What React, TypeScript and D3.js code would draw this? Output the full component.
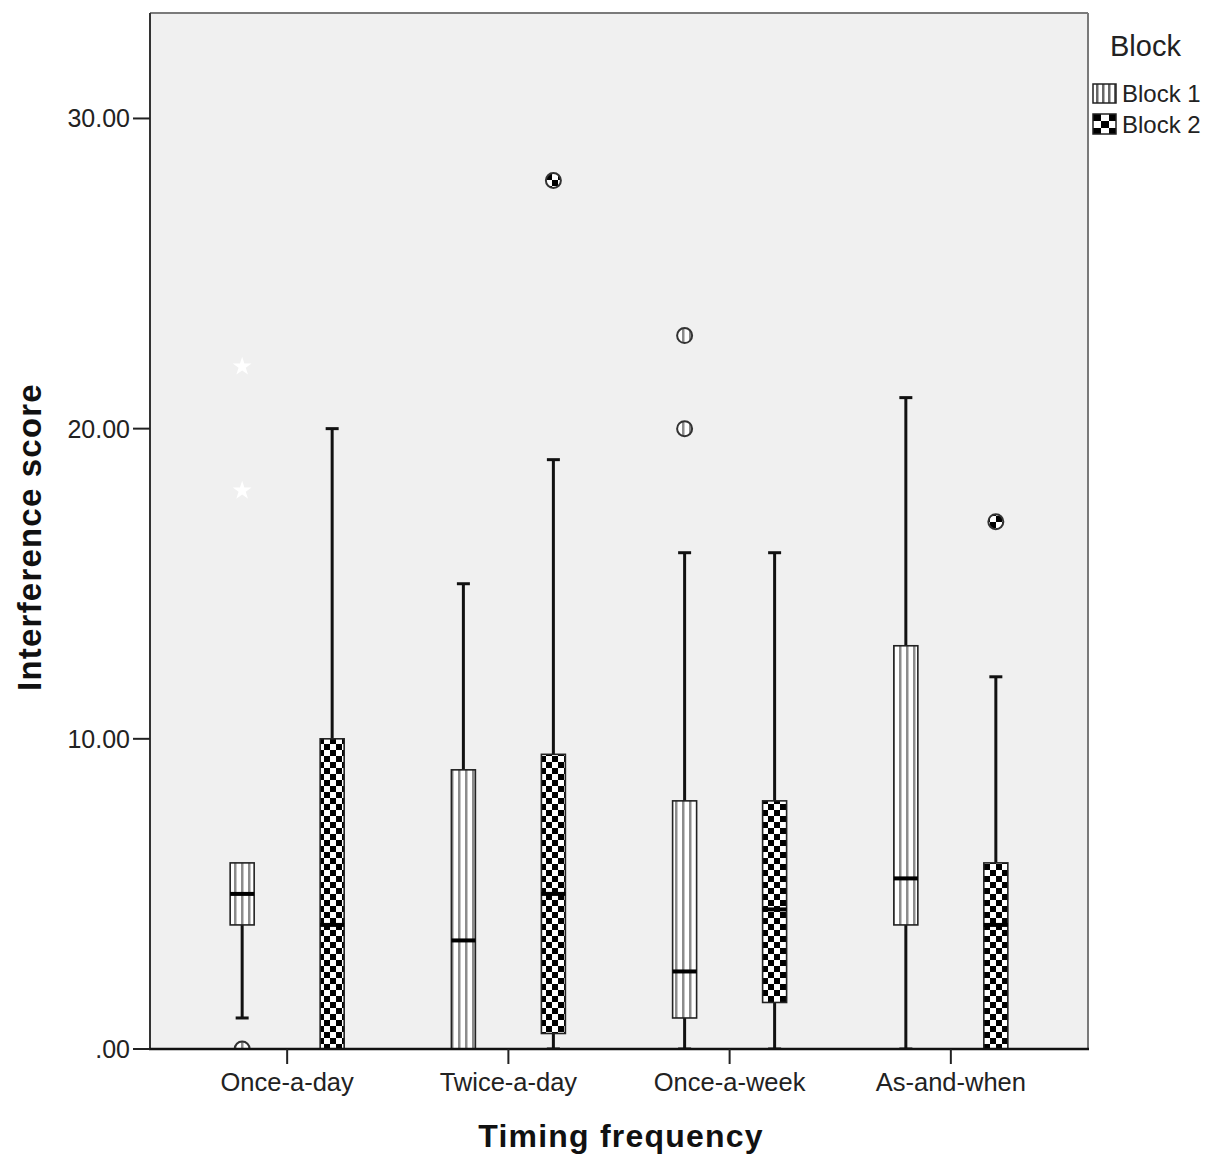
import React from "react";
import * as d3 from "d3";

// categories and legend
const categories = ["Once-a-day", "Twice-a-day", "Once-a-week", "As-and-when"];
const blocks = ["Block 1", "Block 2"];

// Block 1 box stats
const b1Low = [1, 0, 0, 0];
const b1Q1 = [4, 0, 1, 4];
const b1Median = [5, 3.5, 2.5, 5.5];
const b1Q3 = [6, 9, 8, 13];
const b1High = [6, 15, 16, 21];
const b1Outliers = [[0], [], [23, 20], []];
const b1Extremes = [[22, 18], [], [], []];

// Block 2 box stats
const b2Low = [0, 0, 0, 0];
const b2Q1 = [0, 0.5, 1.5, 0];
const b2Median = [4, 5, 4.5, 4];
const b2Q3 = [10, 9.5, 8, 6];
const b2High = [20, 19, 16, 12];
const b2Outliers = [[], [28], [], [17]];
const b2Extremes = [[], [], [], []];

const yTicks = [0, 10, 20, 30];
const yTickLabels = [".00", "10.00", "20.00", "30.00"];

const W = 1208;
const H = 1156;
const M = { left: 150, right: 1088, top: 13, bottom: 1049 };
const FONT = "'Liberation Sans', Arial, sans-serif";

export default function App() {
  const x = d3.scalePoint<string>().domain(categories).range([M.left, M.right]).padding(0.62);
  const inner = d3.scaleBand<string>().domain(blocks).range([-90, 90]);
  const y = d3.scaleLinear().domain([0, 33.4]).range([M.bottom, M.top]);
  const boxW = 24;

  const series = [
    { key: blocks[0], low: b1Low, q1: b1Q1, med: b1Median, q3: b1Q3, high: b1High, out: b1Outliers, ext: b1Extremes, fill: "url(#stripes)" },
    { key: blocks[1], low: b2Low, q1: b2Q1, med: b2Median, q3: b2Q3, high: b2High, out: b2Outliers, ext: b2Extremes, fill: "url(#checker)" },
  ];

  const star = d3.symbol().type(d3.symbolStar).size(110)();

  return (
    <div style={{ position: "absolute", left: 0, top: 0 }}>
      <svg width={W} height={H} style={{ display: "block", fontFamily: FONT }}>
        <defs>
          <pattern id="stripes" patternUnits="userSpaceOnUse" width={7} height={7}>
            <rect width={7} height={7} fill="#fff" />
            <rect x={3} width={2.5} height={7} fill="#8c8c8c" />
          </pattern>
          <pattern id="checker" patternUnits="userSpaceOnUse" width={12} height={12}>
            <rect width={12} height={12} fill="#fff" />
            <rect x={0} y={0} width={6} height={6} fill="#000" />
            <rect x={6} y={6} width={6} height={6} fill="#000" />
          </pattern>
          <pattern id="legStripes" patternUnits="userSpaceOnUse" x={1093} width={6} height={6}>
            <rect width={6} height={6} fill="#fff" />
            <rect x={3} width={2.5} height={6} fill="#666" />
          </pattern>
          <pattern id="legChecker" patternUnits="userSpaceOnUse" x={1093} y={114} width={16} height={14}>
            <rect width={16} height={14} fill="#fff" />
            <rect x={0} y={0} width={8} height={7} fill="#000" />
            <rect x={8} y={7} width={8} height={7} fill="#000" />
          </pattern>
          <clipPath id="plotClip">
            <rect x={M.left} y={M.top} width={M.right - M.left} height={M.bottom - M.top} />
          </clipPath>
        </defs>

        <rect x={M.left} y={M.top} width={M.right - M.left} height={M.bottom - M.top} fill="#f0f0f0" />

        <g clipPath="url(#plotClip)">
          {series.map((s) =>
            categories.map((c, i) => {
              const cx = (x(c) ?? 0) + (inner(s.key) ?? 0) + inner.bandwidth() / 2;
              const yq1 = y(s.q1[i]);
              const yq3 = y(s.q3[i]);
              return (
                <g key={s.key + c}>
                  <line x1={cx} x2={cx} y1={y(s.high[i])} y2={yq3} stroke="#111" strokeWidth={3} />
                  <line x1={cx} x2={cx} y1={yq1} y2={y(s.low[i])} stroke="#111" strokeWidth={3} />
                  {s.high[i] > s.q3[i] && (
                    <line x1={cx - 6.5} x2={cx + 6.5} y1={y(s.high[i])} y2={y(s.high[i])} stroke="#111" strokeWidth={3} />
                  )}
                  {s.low[i] < s.q1[i] && (
                    <line x1={cx - 6.5} x2={cx + 6.5} y1={y(s.low[i])} y2={y(s.low[i])} stroke="#111" strokeWidth={3} />
                  )}
                  <rect
                    x={cx - boxW / 2}
                    y={yq3}
                    width={boxW}
                    height={yq1 - yq3}
                    fill={s.fill}
                    stroke="#222"
                    strokeWidth={1.6}
                  />
                  <line x1={cx - boxW / 2} x2={cx + boxW / 2} y1={y(s.med[i])} y2={y(s.med[i])} stroke="#000" strokeWidth={4} />
                  {s.out[i].map((v, j) => (
                    <circle key={"o" + j} cx={cx} cy={y(v)} r={7.5} fill={s.fill} stroke="#333" strokeWidth={2} />
                  ))}
                  {s.ext[i].map((v, j) => (
                    <path key={"e" + j} d={star ?? ""} transform={`translate(${cx},${y(v)})`} fill="#fff" />
                  ))}
                </g>
              );
            })
          )}
        </g>

        {/* frame */}
        <line x1={M.left} x2={M.right} y1={M.top} y2={M.top} stroke="#7a7a7a" strokeWidth={2} />
        <line x1={M.right} x2={M.right} y1={M.top} y2={M.bottom} stroke="#7a7a7a" strokeWidth={2} />
        <line x1={M.left} x2={M.left} y1={M.top} y2={M.bottom} stroke="#333" strokeWidth={2} />
        <line x1={M.left - 1} x2={M.right + 1} y1={M.bottom} y2={M.bottom} stroke="#111" strokeWidth={2.5} />

        {/* y axis */}
        {yTicks.map((t, i) => (
          <g key={t}>
            <line x1={M.left - 17} x2={M.left} y1={y(t)} y2={y(t)} stroke="#222" strokeWidth={2} />
            <text x={M.left - 20} y={y(t)} dy="0.36em" textAnchor="end" fontSize={25} fill="#222">
              {yTickLabels[i]}
            </text>
          </g>
        ))}

        {/* x axis */}
        {categories.map((c) => (
          <g key={c}>
            <line x1={x(c)} x2={x(c)} y1={M.bottom} y2={M.bottom + 15} stroke="#222" strokeWidth={2} />
            <text x={x(c)} y={1091} textAnchor="middle" fontSize={25.5} fill="#222">
              {c}
            </text>
          </g>
        ))}

        <text x={621} y={1147} textAnchor="middle" fontSize={32} fontWeight="bold" letterSpacing={1.2} fill="#111">
          Timing frequency
        </text>
        <text
          transform="translate(41,537) rotate(-90)"
          textAnchor="middle"
          fontSize={33}
          fontWeight="bold"
          letterSpacing={1.2}
          fill="#111"
        >
          Interference score
        </text>

        {/* legend */}
        <text x={1110} y={56} fontSize={29} fill="#222">Block</text>
        <rect x={1093} y={84} width={23} height={19} fill="url(#legStripes)" stroke="#222" strokeWidth={1.5} />
        <text x={1122} y={102} fontSize={24} fill="#222">{blocks[0]}</text>
        <rect x={1093} y={114} width={23} height={20} fill="url(#legChecker)" stroke="#222" strokeWidth={1.5} />
        <text x={1122} y={133} fontSize={24} fill="#222">{blocks[1]}</text>
      </svg>
    </div>
  );
}
